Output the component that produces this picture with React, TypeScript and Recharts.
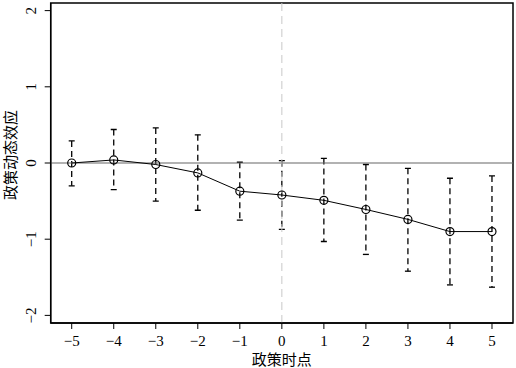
import React from 'react';
import { ComposedChart, Line, Bar, XAxis, YAxis, ReferenceLine, ReferenceArea } from 'recharts';

const periods = [-5, -4, -3, -2, -1, 0, 1, 2, 3, 4, 5];
const estimates = [0.0, 0.04, -0.02, -0.13, -0.37, -0.42, -0.49, -0.61, -0.74, -0.9, -0.9];
const lower = [-0.3, -0.35, -0.5, -0.62, -0.75, -0.87, -1.03, -1.2, -1.42, -1.6, -1.63];
const upper = [0.29, 0.44, 0.46, 0.37, 0.01, 0.03, 0.06, -0.02, -0.07, -0.2, -0.17];
const xTicks = [-5, -4, -3, -2, -1, 0, 1, 2, 3, 4, 5];
const yTicks = [-2, -1, 0, 1, 2];
const xDomain: [number, number] = [-5.5, 5.5];
const yDomain: [number, number] = [-2.1, 2.1];
const xLabel = '政策时点';
const yLabel = '政策动态效应';

const data = periods.map((p, i) => ({
  t: p,
  est: estimates[i],
  ci: [lower[i], upper[i]],
}));

const fmt = (v: number) => (v < 0 ? '\u2212' + Math.abs(v) : String(v));
const SERIF = '"Liberation Serif", "DejaVu Serif", serif';
const CJK = '"Noto Sans CJK SC", sans-serif';

const ErrShape = (props: any) => {
  const { x, y, width, height } = props;
  const cx = x + width / 2;
  const top = Math.min(y, y + height);
  const bot = Math.max(y, y + height);
  return (
    <g>
      <line x1={cx} x2={cx} y1={top} y2={bot} stroke="#000" strokeWidth={1.3} strokeDasharray="6 4" />
      <line x1={cx - 3} x2={cx + 3} y1={top} y2={top} stroke="#000" strokeWidth={1.3} />
      <line x1={cx - 3} x2={cx + 3} y1={bot} y2={bot} stroke="#000" strokeWidth={1.3} />
    </g>
  );
};

const YTick = (props: any) => {
  const { x, y, payload } = props;
  const bx = x - 7;
  return (
    <text x={bx} y={y} transform={`rotate(-90, ${bx}, ${y})`} textAnchor="middle" style={{ fontFamily: SERIF, fontSize: 15 }} fill="#000">
      {fmt(payload.value)}
    </text>
  );
};

const XTick = (props: any) => {
  const { x, y, payload } = props;
  return (
    <text x={x} y={y + 15} textAnchor="middle" style={{ fontFamily: SERIF, fontSize: 15 }} fill="#000">
      {fmt(payload.value)}
    </text>
  );
};

const YLab = (props: any) => {
  const vb = props.viewBox;
  const x = 16;
  const y = vb.y + vb.height / 2 - 8;
  return (
    <text x={x} y={y} transform={`rotate(-90, ${x}, ${y})`} textAnchor="middle" style={{ fontFamily: CJK, fontSize: 15 }} fill="#000">
      {yLabel}
    </text>
  );
};

const XLab = (props: any) => {
  const vb = props.viewBox;
  const x = vb.x + vb.width / 2;
  return (
    <text x={x} y={365} textAnchor="middle" style={{ fontFamily: CJK, fontSize: 15 }} fill="#000">
      {xLabel}
    </text>
  );
};

const Frame = (props: any) => {
  const vb = props.viewBox;
  return <rect x={vb.x} y={vb.y} width={vb.width} height={vb.height} fill="none" stroke="#000" strokeWidth={1.5} />;
};

export default function App() {
  return (
    <div style={{ position: 'absolute', left: 0, top: 0, width: 516, height: 368, background: '#fff' }}>
      <ComposedChart width={516} height={368} data={data} margin={{ top: 3, right: 3, left: 0, bottom: 0 }}>
        <XAxis
          dataKey="t"
          type="number"
          domain={xDomain}
          ticks={xTicks}
          allowDataOverflow
          height={45}
          tickSize={6}
          tick={<XTick />}
          stroke="#000"
          tickLine={{ stroke: '#000' }}
          axisLine={{ stroke: '#000', strokeWidth: 1.3 }}
          label={<XLab />}
        />
        <YAxis
          type="number"
          domain={yDomain}
          ticks={yTicks}
          allowDataOverflow
          width={50.7}
          tickSize={6}
          tick={<YTick />}
          stroke="#000"
          tickLine={{ stroke: '#000' }}
          axisLine={{ stroke: '#000', strokeWidth: 1.3 }}
          label={<YLab />}
        />
        <ReferenceArea x1={xDomain[0]} x2={xDomain[1]} y1={yDomain[0]} y2={yDomain[1]} ifOverflow="visible" fill="none" fillOpacity={0} stroke="none" label={<Frame />} />
        <ReferenceLine y={0} stroke="#666" strokeWidth={1.2} />
        <ReferenceLine x={0} stroke="#c8c8c8" strokeWidth={1} strokeDasharray="8 5" />
        <Bar dataKey="ci" barSize={6} shape={<ErrShape />} isAnimationActive={false} />
        <Line
          dataKey="est"
          stroke="#000"
          strokeWidth={1}
          isAnimationActive={false}
          dot={{ r: 4, stroke: '#000', strokeWidth: 1.2, fill: 'none' }}
        />
      </ComposedChart>
    </div>
  );
}
